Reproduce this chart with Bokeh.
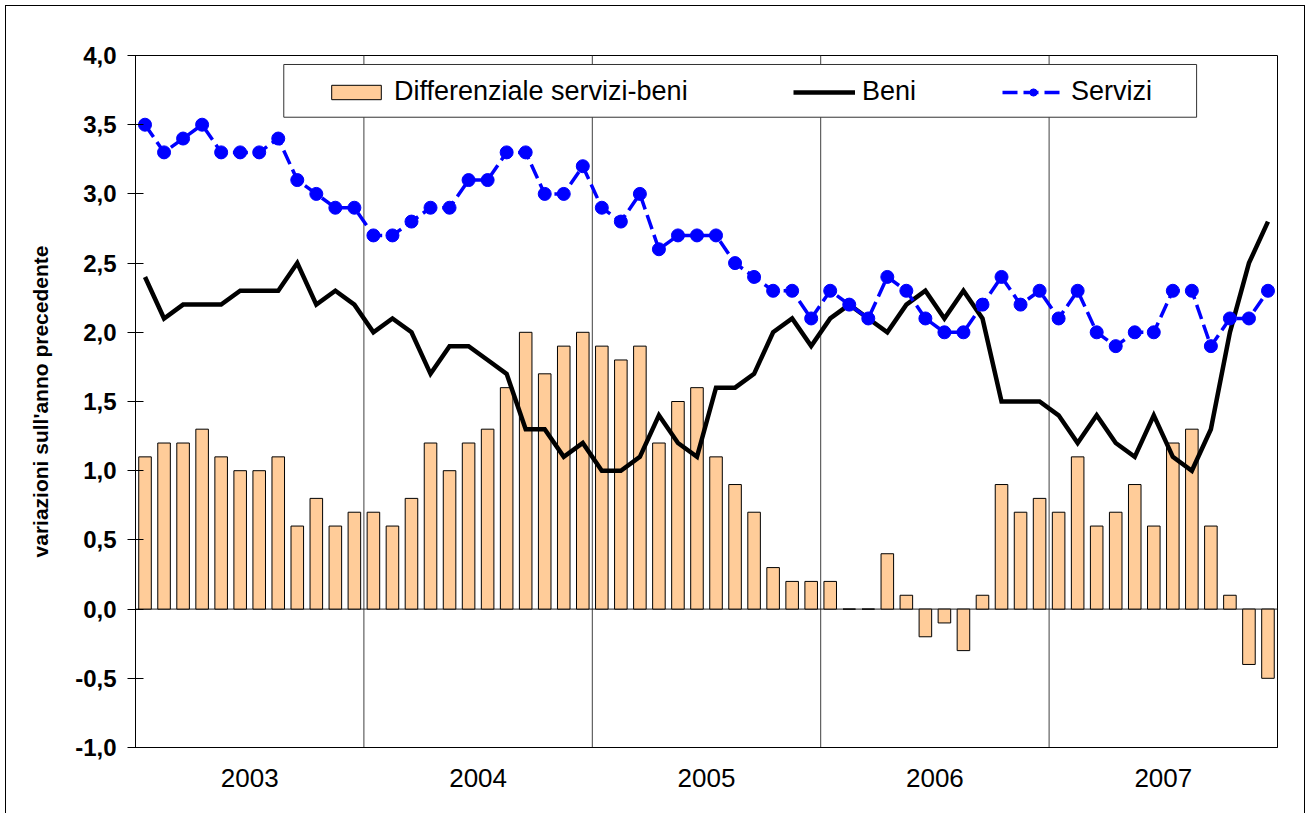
from bokeh.plotting import figure
from bokeh.models import (Range1d, FixedTicker, Span, BoxAnnotation, Legend,
                          LegendItem, CustomJSTickFormatter)
from bokeh.embed import file_html
from bokeh.resources import INLINE

# ---------------- data ----------------
years = ["2003", "2004", "2005", "2006", "2007"]

beni = [2.4, 2.1, 2.2, 2.2, 2.2, 2.3, 2.3, 2.3, 2.5, 2.2, 2.3, 2.2,
        2.0, 2.1, 2.0, 1.7, 1.9, 1.9, 1.8, 1.7, 1.3, 1.3, 1.1, 1.2,
        1.0, 1.0, 1.1, 1.4, 1.2, 1.1, 1.6, 1.6, 1.7, 2.0, 2.1, 1.9,
        2.1, 2.2, 2.1, 2.0, 2.2, 2.3, 2.1, 2.3, 2.1, 1.5, 1.5, 1.5,
        1.4, 1.2, 1.4, 1.2, 1.1, 1.4, 1.1, 1.0, 1.3, 2.0, 2.5, 2.8]

servizi = [3.5, 3.3, 3.4, 3.5, 3.3, 3.3, 3.3, 3.4, 3.1, 3.0, 2.9, 2.9,
           2.7, 2.7, 2.8, 2.9, 2.9, 3.1, 3.1, 3.3, 3.3, 3.0, 3.0, 3.2,
           2.9, 2.8, 3.0, 2.6, 2.7, 2.7, 2.7, 2.5, 2.4, 2.3, 2.3, 2.1,
           2.3, 2.2, 2.1, 2.4, 2.3, 2.1, 2.0, 2.0, 2.2, 2.4, 2.2, 2.3,
           2.1, 2.3, 2.0, 1.9, 2.0, 2.0, 2.3, 2.3, 1.9, 2.1, 2.1, 2.3]

differenziale = [1.1, 1.2, 1.2, 1.3, 1.1, 1.0, 1.0, 1.1, 0.6, 0.8, 0.6, 0.7,
                 0.7, 0.6, 0.8, 1.2, 1.0, 1.2, 1.3, 1.6, 2.0, 1.7, 1.9, 2.0,
                 1.9, 1.8, 1.9, 1.2, 1.5, 1.6, 1.1, 0.9, 0.7, 0.3, 0.2, 0.2,
                 0.2, 0.0, 0.0, 0.4, 0.1, -0.2, -0.1, -0.3, 0.1, 0.9, 0.7, 0.8,
                 0.7, 1.1, 0.6, 0.7, 0.9, 0.6, 1.2, 1.3, 0.6, 0.1, -0.4, -0.5]

y_ticks = [-1.0, -0.5, 0.0, 0.5, 1.0, 1.5, 2.0, 2.5, 3.0, 3.5, 4.0]

n_months = len(beni)
x = [i + 0.5 for i in range(n_months)]

FONT = "Liberation Sans"

p = figure(width=1300, height=808, output_backend="svg", toolbar_location=None,
           x_range=Range1d(0, n_months), y_range=Range1d(-1.0, 4.0),
           min_border_left=129, min_border_right=29, min_border_top=49,
           min_border_bottom=67,
           styles={"margin-left": "5px", "margin-top": "5px",
                   "border-left": "1px solid black", "border-top": "1px solid black",
                   "border-right": "1px solid black"})

p.xgrid.visible = False
p.ygrid.visible = False
p.outline_line_color = "black"
p.outline_line_width = 1

# year separators
for k in range(1, len(years)):
    p.add_layout(Span(location=12 * k, dimension="height", line_color="#404040",
                      line_width=1, level="underlay"))
# zero line
p.add_layout(Span(location=0, dimension="width", line_color="#202020",
                  line_width=1, level="underlay"))

bars = p.vbar(x=x, top=differenziale, bottom=0, width=0.66, fill_color="#FFCC99",
              line_color="black", line_width=1)
beni_r = p.line(x=x, y=beni, line_color="black", line_width=4.5, line_join="miter")
serv_line = p.line(x=x, y=servizi, line_color="#0000FF", line_width=3.5,
                   line_dash="15 6")
serv_pts = p.scatter(x=x, y=servizi, size=13, marker="circle", fill_color="#0000FF",
                     line_color="#0000FF")

# axes
yax = p.yaxis[0]
yax.ticker = FixedTicker(ticks=y_ticks)
yax.formatter = CustomJSTickFormatter(code="return tick.toFixed(1).replace('.', ',');")
yax.major_tick_in = 8
yax.major_tick_out = 8
yax.minor_tick_in = 0
yax.minor_tick_out = 0
yax.major_tick_line_color = "black"
yax.axis_line_color = "black"
yax.major_label_text_font = FONT
yax.major_label_text_font_style = "bold"
yax.major_label_text_font_size = "24px"
yax.major_label_text_color = "black"
yax.major_label_standoff = 11
yax.axis_label = "variazioni sull'anno precedente"
yax.axis_label_text_font = FONT
yax.axis_label_text_font_style = "bold"
yax.axis_label_text_font_size = "21px"
yax.axis_label_text_color = "black"
yax.axis_label_standoff = 20

xax = p.xaxis[0]
xax.ticker = FixedTicker(ticks=[12 * k + 6 for k in range(len(years))])
xax.formatter = CustomJSTickFormatter(args=dict(years=years),
                                      code="return years[Math.floor(tick / 12)];")
xax.major_tick_in = 0
xax.major_tick_out = 0
xax.minor_tick_in = 0
xax.minor_tick_out = 0
xax.axis_line_color = "black"
xax.major_label_text_font = FONT
xax.major_label_text_font_size = "26px"
xax.major_label_text_color = "black"
xax.major_label_standoff = 21

# legend box
p.add_layout(BoxAnnotation(left=7.79, right=55.75, top=3.935, bottom=3.554,
                           fill_color="white", fill_alpha=1.0,
                           line_color="#333333", line_width=1, line_alpha=1.0))

legend_items = [
    (LegendItem(label="Differenziale servizi-beni", renderers=[bars]), 325),
    (LegendItem(label="Beni", renderers=[beni_r]), 793),
    (LegendItem(label="Servizi", renderers=[serv_line, serv_pts]), 1002),
]
for item, sx in legend_items:
    lg = Legend(items=[item], location=(sx - 135, 640), orientation="horizontal",
                padding=0, margin=0, spacing=0, glyph_width=62, glyph_height=18,
                label_standoff=7, label_text_font=FONT, label_text_font_size="27px",
                label_text_color="black", border_line_alpha=0,
                background_fill_alpha=0)
    p.add_layout(lg)

open("out.html", "w").write(file_html(p, INLINE))
